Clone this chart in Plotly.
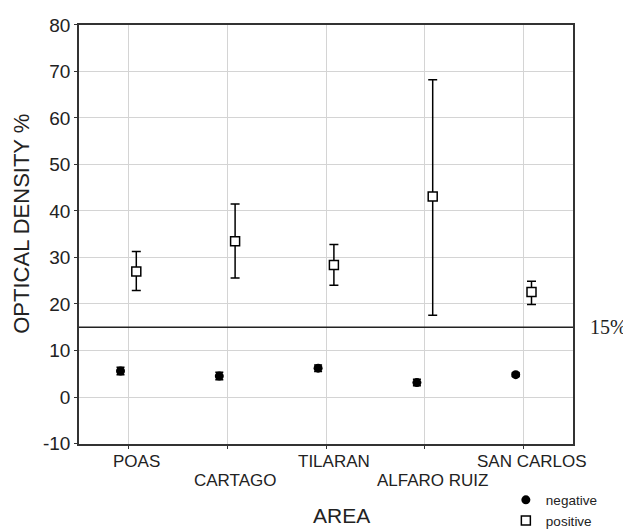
import plotly.graph_objects as go

areas = ["POAS", "CARTAGO", "TILARAN", "ALFARO RUIZ", "SAN CARLOS"]
neg_mean = [5.6, 4.5, 6.2, 3.1, 4.8]
neg_err = [0.8, 0.8, 0.7, 0.7, 0.4]
pos_mean = [27.0, 33.5, 28.4, 43.1, 22.6]
pos_upper = [31.3, 41.5, 32.8, 68.2, 24.9]
pos_lower = [22.9, 25.6, 24.0, 17.6, 19.9]
cutoff = 15
ytick_vals = [-10, 0, 10, 20, 30, 40, 50, 60, 70, 80]
ytick_text = ["-10", "0", "10", "20", "30", "40", "50", "60", "70", "80"]

W, H = 631, 529
idx = list(range(len(areas)))
xn = [i - 0.08 for i in idx]
xp = [i + 0.08 for i in idx]

fig = go.Figure()
fig.add_trace(go.Scatter(
    x=xn, y=neg_mean, mode="markers", name="negative",
    marker=dict(symbol="circle", size=9, color="black"),
    error_y=dict(type="data", array=neg_err, color="black", thickness=1.5, width=4),
))
fig.add_trace(go.Scatter(
    x=xp, y=pos_mean, mode="markers", name="positive",
    marker=dict(symbol="square", size=9, color="white", line=dict(color="black", width=1.5)),
    error_y=dict(type="data", symmetric=False,
                 array=[u - m for u, m in zip(pos_upper, pos_mean)],
                 arrayminus=[m - l for m, l in zip(pos_mean, pos_lower)],
                 color="black", thickness=1.5, width=4.5),
))

fig.add_shape(type="line", xref="x domain", x0=0, x1=1, yref="y", y0=cutoff, y1=cutoff,
              line=dict(color="#222", width=1.5))
fig.add_annotation(xref="x domain", x=1.0, xanchor="left", xshift=15, yref="y", y=cutoff,
                   text="15%", showarrow=False,
                   font=dict(family="Liberation Serif", size=20, color="#222"))

for i, a in enumerate(areas):
    fig.add_annotation(x=i, xref="x", xshift=8, y=0, yref="y domain",
                       yanchor="top", yshift=-(6 if i % 2 == 0 else 25),
                       text=a, showarrow=False,
                       font=dict(family="Liberation Sans", size=17, color="#222"))

fig.add_annotation(xref="x domain", x=0.532, yref="y domain", y=0, yshift=-58,
                   yanchor="top", text="AREA", showarrow=False,
                   font=dict(family="Liberation Sans", size=21, color="#222"))

fig.add_annotation(xref="x domain", x=0, xshift=-57, xanchor="center", yref="y domain", y=0.525,
                   text="OPTICAL DENSITY %", textangle=-90, showarrow=False,
                   font=dict(family="Liberation Sans", size=22, color="#222"))

fig.update_layout(
    width=W, height=H,
    margin=dict(l=0, r=0, t=0, b=0),
    paper_bgcolor="white", plot_bgcolor="white",
    font=dict(family="Liberation Sans", color="#222"),
    showlegend=True,
    legend=dict(x=0.789, y=0.094, xanchor="left", yanchor="top",
                font=dict(size=13.5, color="#222"), bgcolor="rgba(0,0,0,0)",
                itemwidth=30, tracegroupgap=0),
    xaxis=dict(domain=[71 / W, 565 / W], range=[-0.5, 4.5], tickvals=idx,
               showticklabels=False, automargin=False,
               showgrid=True, gridcolor="#d4d4d4", gridwidth=1,
               showline=True, linecolor="#333", linewidth=1.5, mirror=True,
               ticks="outside", ticklen=4, tickcolor="#333", zeroline=False),
    yaxis=dict(domain=[1 - 438 / H, 1 - 17 / H], range=[-10, 80], tickvals=ytick_vals,
               ticktext=ytick_text, automargin=False,
               showgrid=True, gridcolor="#d4d4d4", gridwidth=1,
               showline=True, linecolor="#333", linewidth=1.5, mirror=True,
               ticks="outside", ticklen=3, tickcolor="#333", zeroline=False,
               tickfont=dict(size=19, color="#222")),
)

fig.write_html("out.html")
